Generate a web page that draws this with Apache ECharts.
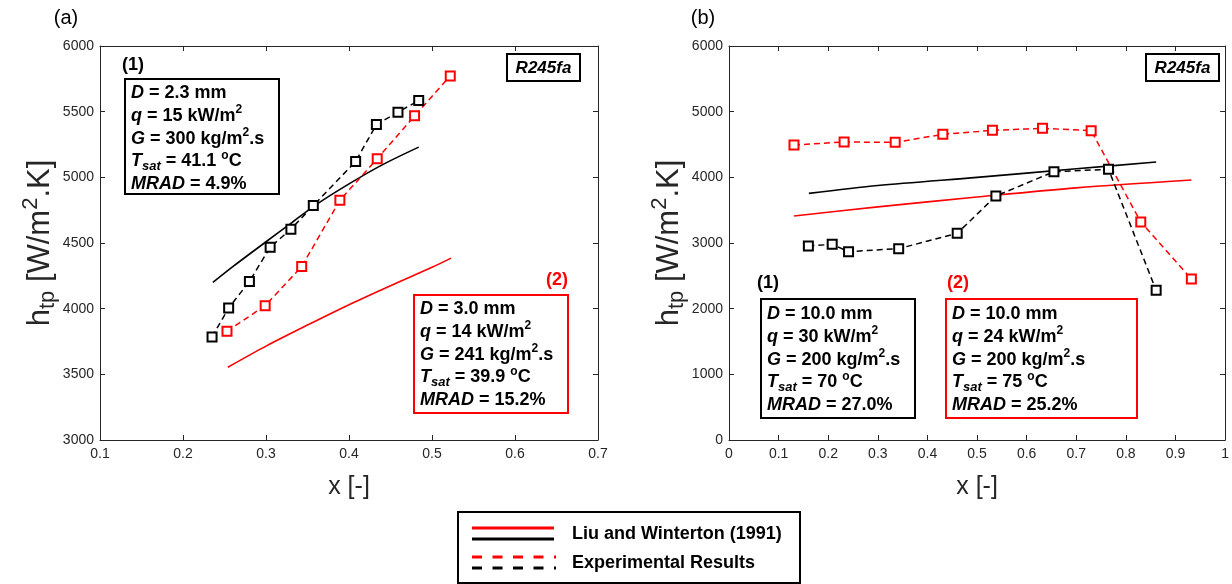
<!DOCTYPE html>
<html><head><meta charset="utf-8">
<script src="https://cdn.jsdelivr.net/npm/echarts@6/dist/echarts.min.js"></script>
<style>html,body{margin:0;padding:0;background:#fff}#c{width:1232px;height:584px}</style>
</head><body><div id="c"></div>
<script>
// ---------- Panel (a) data ----------
const aExp1X = [0.235, 0.255, 0.280, 0.305, 0.330, 0.357, 0.408, 0.433, 0.459, 0.484];
const aExp1Y = [3785, 4005, 4207, 4468, 4605, 4785, 5121, 5402, 5496, 5585];
const aExp2X = [0.253, 0.299, 0.343, 0.389, 0.434, 0.479, 0.522];
const aExp2Y = [3828, 4023, 4321, 4825, 5142, 5468, 5772];
const aLiu1X = [0.236, 0.260, 0.298, 0.330, 0.360, 0.400, 0.440, 0.484];
const aLiu1Y = [4200, 4320, 4500, 4650, 4790, 4950, 5095, 5230];
const aLiu2X = [0.254, 0.300, 0.350, 0.400, 0.450, 0.500, 0.523];
const aLiu2Y = [3554, 3715, 3875, 4030, 4175, 4315, 4385];
// ---------- Panel (b) data ----------
const bExp1X = [0.160, 0.208, 0.241, 0.342, 0.460, 0.538, 0.655, 0.765, 0.861];
const bExp1Y = [2954, 2980, 2868, 2914, 3147, 3716, 4086, 4122, 2279];
const bExp2X = [0.131, 0.232, 0.335, 0.431, 0.531, 0.632, 0.730, 0.830, 0.932];
const bExp2Y = [4492, 4538, 4533, 4655, 4716, 4746, 4711, 3320, 2452];
const bLiu1X = [0.161, 0.300, 0.500, 0.700, 0.861];
const bLiu1Y = [3756, 3875, 4000, 4130, 4234];
const bLiu2X = [0.131, 0.300, 0.500, 0.700, 0.932];
const bLiu2Y = [3411, 3550, 3700, 3840, 3959];
// ---------- Text ----------
const panelTitles = ['(a)', '(b)'];
const fluid = 'R245fa';
const legendLabels = ['Liu and Winterton (1991)', 'Experimental Results'];
const xName = 'x [-]';
const aBox1 = ['{i|D}{n| = 2.3 mm}', '{i|q}{n| = 15 kW/m}{p|2}', '{i|G}{n| = 300 kg/m}{p|2}{n|.s}', '{i|T}{s|sat}{n| = 41.1 }{p|o}{n|C}', '{i|MRAD}{n| = 4.9%}'];
const aBox2 = ['{i|D}{n| = 3.0 mm}', '{i|q}{n| = 14 kW/m}{p|2}', '{i|G}{n| = 241 kg/m}{p|2}{n|.s}', '{i|T}{s|sat}{n| = 39.9 }{p|o}{n|C}', '{i|MRAD}{n| = 15.2%}'];
const bBox1 = ['{i|D}{n| = 10.0 mm}', '{i|q}{n| = 30 kW/m}{p|2}', '{i|G}{n| = 200 kg/m}{p|2}{n|.s}', '{i|T}{s|sat}{n| = 70 }{p|o}{n|C}', '{i|MRAD}{n| = 27.0%}'];
const bBox2 = ['{i|D}{n| = 10.0 mm}', '{i|q}{n| = 24 kW/m}{p|2}', '{i|G}{n| = 200 kg/m}{p|2}{n|.s}', '{i|T}{s|sat}{n| = 75 }{p|o}{n|C}', '{i|MRAD}{n| = 25.2%}'];

const FONT = 'Liberation Sans, Arial, Helvetica, sans-serif';
const AX = '#262626';
const RED = '#ff0000';
function pairs(xs, ys) { return xs.map((x, i) => [x, ys[i]]); }

const chart = echarts.init(document.getElementById('c'), null, { renderer: 'canvas' });

const grids = [
  { left: 100, top: 46, width: 498, height: 394 },
  { left: 729, top: 46, width: 498, height: 394 }
];

function xAxes(gi, min, max, interval) {
  return [
    { type: 'value', gridIndex: gi, min, max, interval, position: 'bottom',
      name: xName, nameLocation: 'middle', nameGap: 35,
      nameTextStyle: { fontFamily: FONT, fontSize: 25, color: AX },
      axisLine: { show: true, lineStyle: { color: AX, width: 1 } },
      axisTick: { show: true, inside: true, length: 5, lineStyle: { color: AX } },
      axisLabel: { fontFamily: FONT, fontSize: 14, color: AX, margin: 7, formatter: v => String(+v.toFixed(2)) },
      splitLine: { show: false } },
    { type: 'value', gridIndex: gi, min, max, interval, position: 'top',
      axisLine: { show: true, onZero: false, lineStyle: { color: AX, width: 1 } },
      axisTick: { show: true, inside: true, length: 5, lineStyle: { color: AX } },
      axisLabel: { show: false }, splitLine: { show: false } }
  ];
}
const yRich = {
  h: { fontFamily: FONT, fontSize: 31, color: AX },
  s: { fontFamily: FONT, fontSize: 22, color: AX, padding: [15, 0, 0, 0] },
  p: { fontFamily: FONT, fontSize: 22, color: AX, padding: [0, 0, 18, 0] }
};
function yAxes(gi, min, max, interval) {
  return [
    { type: 'value', gridIndex: gi, min, max, interval, position: 'left',
      name: '{h|h}{s|tp}{h| [W/m}{p|2}{h|.K]}', nameLocation: 'middle', nameGap: 40,
      nameTextStyle: { rich: yRich },
      axisLine: { show: true, onZero: false, lineStyle: { color: AX, width: 1 } },
      axisTick: { show: true, inside: true, length: 5, lineStyle: { color: AX } },
      axisLabel: { fontFamily: FONT, fontSize: 14, color: AX, margin: 6, formatter: v => String(v) },
      splitLine: { show: false } },
    { type: 'value', gridIndex: gi, min, max, interval, position: 'right',
      axisLine: { show: true, onZero: false, lineStyle: { color: AX, width: 1 } },
      axisTick: { show: true, inside: true, length: 5, lineStyle: { color: AX } },
      axisLabel: { show: false }, splitLine: { show: false } }
  ];
}

function liu(name, xi, yi, data, color) {
  return { name, type: 'line', xAxisIndex: xi, yAxisIndex: yi, data, smooth: 0.3,
    showSymbol: false, symbol: 'none', lineStyle: { color, width: 1.6 }, z: 2, silent: true };
}
function exp(name, xi, yi, data, color) {
  return { name, type: 'line', xAxisIndex: xi, yAxisIndex: yi, data,
    symbol: 'emptyRect', symbolSize: 9, showAllSymbol: true,
    itemStyle: { color, borderColor: color, borderWidth: 1.3 },
    lineStyle: { color, width: 1.5, type: [6, 4] }, z: 3, silent: true };
}

const rich = {
  n: { fontFamily: FONT, fontSize: 18, fontWeight: 'bold', fill: '#000' },
  i: { fontFamily: FONT, fontSize: 18, fontWeight: 'bold', fontStyle: 'italic', fill: '#000' },
  p: { fontFamily: FONT, fontSize: 12, fontWeight: 'bold', fill: '#000', padding: [0, 0, 12, 0] },
  s: { fontFamily: FONT, fontSize: 13, fontWeight: 'bold', fontStyle: 'italic', fill: '#000', padding: [10, 0, 0, 0] }
};

function box(x, y, w, h, color, lines, tx, ty0, label, lx, ly, lalign) {
  const els = [
    { type: 'rect', shape: { x, y, width: w, height: h }, style: { fill: '#fff', stroke: color, lineWidth: 2 }, z: 10 },
    { type: 'text', x: lx, y: ly, style: { text: label, fill: color, font: 'bold 18px ' + FONT, align: lalign, verticalAlign: 'middle' }, z: 11 }
  ];
  lines.forEach((t, k) => {
    els.push({ type: 'text', x: tx, y: ty0 + k * 22.8, style: { text: t, rich, align: 'left', verticalAlign: 'middle' }, z: 11 });
  });
  return els;
}
function fluidBox(x, y) {
  return [
    { type: 'rect', shape: { x, y, width: 73, height: 27 }, style: { fill: '#fff', stroke: '#000', lineWidth: 2 }, z: 10 },
    { type: 'text', x: x + 36.5, y: y + 14, style: { text: fluid, fill: '#000', font: 'italic bold 17px ' + FONT, align: 'center', verticalAlign: 'middle' }, z: 11 }
  ];
}

const graphics = [
  { type: 'text', x: 66, y: 18, style: { text: panelTitles[0], fill: '#000', font: '20px ' + FONT, align: 'center', verticalAlign: 'middle' } },
  { type: 'text', x: 703, y: 18, style: { text: panelTitles[1], fill: '#000', font: '20px ' + FONT, align: 'center', verticalAlign: 'middle' } },
  ...fluidBox(507, 54),
  ...fluidBox(1146, 54),
  ...box(125, 79, 154, 115, '#000', aBox1, 131, 93, '(1)', 122, 65, 'left'),
  ...box(414, 295, 154, 118, RED, aBox2, 420, 309, '(2)', 568, 280, 'right'),
  ...box(761, 299, 154, 119, '#000', bBox1, 767, 314, '(1)', 757, 283, 'left'),
  ...box(946, 299, 191, 119, RED, bBox2, 952, 314, '(2)', 947, 283, 'left'),
  // legend
  { type: 'rect', shape: { x: 458, y: 512, width: 342, height: 71 }, style: { fill: '#fff', stroke: '#000', lineWidth: 2 }, z: 10 },
  { type: 'line', shape: { x1: 472, y1: 528, x2: 554, y2: 528 }, style: { stroke: RED, lineWidth: 3 }, z: 11 },
  { type: 'line', shape: { x1: 472, y1: 539, x2: 554, y2: 539 }, style: { stroke: '#000', lineWidth: 3 }, z: 11 },
  { type: 'line', shape: { x1: 472, y1: 557, x2: 556, y2: 557 }, style: { stroke: RED, lineWidth: 3, lineDash: [10, 10.5] }, z: 11 },
  { type: 'line', shape: { x1: 472, y1: 568, x2: 556, y2: 568 }, style: { stroke: '#000', lineWidth: 3, lineDash: [10, 10.5] }, z: 11 },
  { type: 'text', x: 572, y: 534, style: { text: legendLabels[0], fill: '#000', font: 'bold 18px ' + FONT, align: 'left', verticalAlign: 'middle' }, z: 11 },
  { type: 'text', x: 572, y: 563, style: { text: legendLabels[1], fill: '#000', font: 'bold 18px ' + FONT, align: 'left', verticalAlign: 'middle' }, z: 11 }
];

chart.setOption({
  animation: false,
  backgroundColor: '#fff',
  grid: grids,
  xAxis: [...xAxes(0, 0.1, 0.7, 0.1), ...xAxes(1, 0, 1, 0.1)],
  yAxis: [...yAxes(0, 3000, 6000, 500), ...yAxes(1, 0, 6000, 1000)],
  series: [
    liu('Liu (1) a', 0, 0, pairs(aLiu1X, aLiu1Y), '#000'),
    liu('Liu (2) a', 0, 0, pairs(aLiu2X, aLiu2Y), RED),
    exp('Exp (1) a', 0, 0, pairs(aExp1X, aExp1Y), '#000'),
    exp('Exp (2) a', 0, 0, pairs(aExp2X, aExp2Y), RED),
    liu('Liu (1) b', 2, 2, pairs(bLiu1X, bLiu1Y), '#000'),
    liu('Liu (2) b', 2, 2, pairs(bLiu2X, bLiu2Y), RED),
    exp('Exp (1) b', 2, 2, pairs(bExp1X, bExp1Y), '#000'),
    exp('Exp (2) b', 2, 2, pairs(bExp2X, bExp2Y), RED)
  ],
  graphic: graphics
});
</script></body></html>
